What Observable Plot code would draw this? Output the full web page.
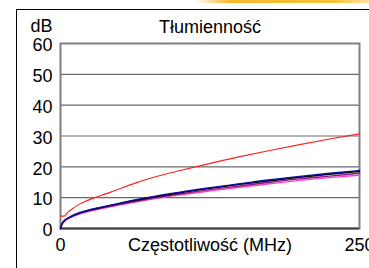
<!DOCTYPE html>
<html>
<head>
<meta charset="utf-8">
<script src="https://cdn.jsdelivr.net/npm/d3@7"></script>
<script src="https://cdn.jsdelivr.net/npm/@observablehq/plot@0.6"></script>
<style>
  html, body { margin: 0; padding: 0; background: #fff; }
  #wrap { position: relative; width: 369px; height: 268px; overflow: hidden; font-family: "Liberation Sans", Arial, sans-serif; }
  #deco { position: absolute; left: 195px; top: 0; width: 174px; height: 3px;
          background: linear-gradient(to right, rgba(247,190,50,0), #f5b829 20%, #f7c23a 80%, #fbe3a0); }
  #box { position: absolute; left: 16px; top: 9px; width: 400px; height: 300px;
         border-left: 1px solid #000; border-top: 1px solid #000; }
  #chart { position: absolute; left: 0; top: 0; }
</style>
</head>
<body>
<div id="wrap"><div id="deco"></div><div id="box"></div><div id="chart"></div></div>
<script>
const title = "Tłumienność";
const yUnit = "dB";
const xLabel = "Częstotliwość (MHz)";
const yTicks = [0, 10, 20, 30, 40, 50, 60];
const xTicks = [0, 250];

// limit line (red)
const limitFreq = [0, 3, 6, 10, 16, 20, 28.6, 42, 63, 75, 100, 113, 150, 175, 200, 225, 250];
const limitDb   = [4.0, 4.0, 5.2, 6.4, 7.9, 8.7, 10.0, 11.8, 14.8, 16.3, 18.8, 20.0, 23.3, 25.3, 27.2, 29.0, 30.7];

// measured pairs
const freq     = [0, 1, 2, 4, 8, 13, 20, 30, 47, 72, 100, 125, 150, 175, 200, 225, 250];
const blueDb   = [0, 1.3, 2.0, 2.8, 3.8, 4.7, 5.6, 6.6, 8.0, 10.0, 11.8, 13.2, 14.5, 15.8, 16.9, 17.9, 18.8];
const blackDb  = [0, 1.3, 2.0, 2.8, 3.7, 4.6, 5.5, 6.5, 7.9, 9.8, 11.6, 13.0, 14.3, 15.5, 16.6, 17.6, 18.5];
const purpleDb = [0, 1.2, 1.9, 2.7, 3.6, 4.5, 5.4, 6.3, 7.7, 9.5, 11.2, 12.6, 13.8, 15.0, 16.1, 17.0, 17.9];
const pinkDb   = [0, 1.2, 1.8, 2.6, 3.5, 4.3, 5.2, 6.1, 7.4, 9.2, 10.9, 12.2, 13.4, 14.5, 15.6, 16.5, 17.3];

const mk = (fs, vs) => fs.map((f, i) => ({f, v: vs[i]}));
const series = [
  {data: mk(freq, pinkDb), color: "#ff3cc8", w: 1.4},
  {data: mk(freq, purpleDb), color: "#8a1a8a", w: 1.4},
  {data: mk(freq, blackDb), color: "#000000", w: 1.4},
  {data: mk(freq, blueDb), color: "#10109a", w: 1.4},
  {data: mk(limitFreq, limitDb), color: "#ff2020", w: 1.1}
];

const chart = Plot.plot({
  width: 369,
  height: 268,
  marginLeft: 60,
  marginRight: 10,
  marginTop: 43,
  marginBottom: 40,
  style: {fontSize: "18px", fontFamily: "'Liberation Sans', Arial, sans-serif", color: "#000", background: "transparent"},
  x: {domain: [0, 250]},
  y: {domain: [0, 60]},
  marks: [
    Plot.ruleY(yTicks.filter(d => d > 0 && d < 60), {stroke: "#6a6a6a", strokeWidth: 1.2}),
    Plot.frame({stroke: "#808080", strokeWidth: 2}),
    Plot.ruleY([0], {stroke: "#404040", strokeWidth: 2}),
    Plot.axisY({ticks: yTicks, tickSize: 0, tickPadding: 8, label: null, dy: 2}),
    Plot.axisX({ticks: xTicks, tickSize: 0, tickPadding: 10, label: null, tickFormat: d => String(d)}),
    ...series.map(s => Plot.line(s.data, {x: "f", y: "v", stroke: s.color, strokeWidth: s.w, curve: "monotone-x"})),
    Plot.text([title], {frameAnchor: "top", lineAnchor: "bottom", dy: -11, text: d => d}),
    Plot.text([yUnit], {frameAnchor: "top-left", textAnchor: "end", lineAnchor: "bottom", dx: -8, dy: -12, text: d => d}),
    Plot.text([xLabel], {frameAnchor: "bottom", lineAnchor: "top", dy: 10, text: d => d})
  ]
});
document.getElementById("chart").appendChild(chart);
</script>
</body>
</html>
